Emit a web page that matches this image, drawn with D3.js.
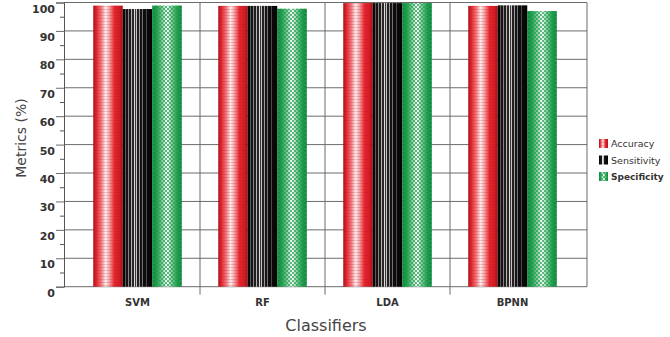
<!DOCTYPE html>
<html>
<head>
<meta charset="utf-8">
<script src="https://cdn.jsdelivr.net/npm/d3@7/dist/d3.min.js"></script>
<style>
  body { margin: 0; background: #fff; }
  text { font-family: "DejaVu Sans", Verdana, sans-serif; }
</style>
</head>
<body>
<div id="chart"></div>
<script>
// data
const classifiers = ['SVM', 'RF', 'LDA', 'BPNN'];
const metrics = ['Accuracy', 'Sensitivity', 'Specificity'];
const accuracy = [98.9, 98.8, 99.8, 98.8];
const sensitivity = [97.7, 98.8, 99.8, 99.0];
const specificity = [98.9, 97.8, 99.8, 97.0];
const yTicks = [0, 10, 20, 30, 40, 50, 60, 70, 80, 90, 100];
const yMinorTicks = [5, 15, 25, 35, 45, 55, 65, 75, 85, 95];

const width = 670;
const height = 337;
const plot = { left: 64, right: 587, top: 2.5, bottom: 286.7 };

const svg = d3.select('#chart')
  .append('svg')
  .attr('width', width)
  .attr('height', height);

const defs = svg.append('defs');

/* fills: red gradient, black stripes, green checkers */
const redGrad = defs.append('linearGradient').attr('id', 'redGrad');
[[0, '#a8131a'], [0.1, '#e0232b'], [0.28, '#f27d82'], [0.42, '#fdf0f0'], [0.55, '#f4a0a3'], [0.72, '#e5262e'], [0.9, '#d01b23'], [1, '#9a1117']]
  .forEach(([o, c]) => redGrad.append('stop').attr('offset', o).attr('stop-color', c));

const redLines = defs.append('pattern').attr('id', 'redLines')
  .attr('patternUnits', 'userSpaceOnUse').attr('width', 4).attr('height', 3);
redLines.append('rect').attr('width', 4).attr('height', 1).attr('fill', '#c0141c').attr('opacity', 0.2);

const blackGrad = defs.append('linearGradient').attr('id', 'blackGrad');
const stripes = [
  [0.08, '#080808'], [0.11, '#5e5a5c'], [0.19, '#151314'], [0.22, '#8a8587'], [0.28, '#1e1c1d'],
  [0.32, '#b8b4b6'], [0.37, '#2a2728'], [0.41, '#dedadb'], [0.46, '#3a3738'], [0.5, '#c7c3c5'],
  [0.56, '#222021'], [0.6, '#9f9b9d'], [0.66, '#161415'], [0.7, '#76727a'], [0.79, '#0e0c0d'],
  [0.83, '#4d494b'], [0.93, '#0a0909'], [1, '#040404']
];
let prev = 0;
stripes.forEach(([o, c]) => {
  blackGrad.append('stop').attr('offset', prev).attr('stop-color', c);
  blackGrad.append('stop').attr('offset', o).attr('stop-color', c);
  prev = o;
});

const greenGrad = defs.append('linearGradient').attr('id', 'greenGrad');
[[0, '#11803a'], [0.15, '#1e9c4c'], [0.35, '#8fd0a5'], [0.5, '#ffffff'], [0.65, '#8fd0a5'], [0.85, '#1e9c4c'], [1, '#11803a']]
  .forEach(([o, c]) => greenGrad.append('stop').attr('offset', o).attr('stop-color', c));

const checks = defs.append('pattern').attr('id', 'checks')
  .attr('patternUnits', 'userSpaceOnUse').attr('width', 4).attr('height', 4);
checks.append('rect').attr('width', 2).attr('height', 2).attr('fill', '#1f9e4e').attr('opacity', 0.7);
checks.append('rect').attr('x', 2).attr('y', 2).attr('width', 2).attr('height', 2).attr('fill', '#1f9e4e').attr('opacity', 0.7);

const fills = {
  Accuracy: ['url(#redGrad)', 'url(#redLines)'],
  Sensitivity: ['url(#blackGrad)', 'none'],
  Specificity: ['url(#greenGrad)', 'url(#checks)']
};

/* scales */
const y = d3.scaleLinear().domain([0, 100]).range([plot.bottom, plot.top]);
const x = d3.scaleBand().domain(classifiers).range([75, 575]);
const xSub = d3.scaleBand().domain(metrics).range([18.25, 106.75]);

const rows = classifiers.map((c, i) => ({
  name: c,
  values: [
    { key: 'Accuracy', value: accuracy[i] },
    { key: 'Sensitivity', value: sensitivity[i] },
    { key: 'Specificity', value: specificity[i] }
  ]
}));

/* gridlines */
svg.append('g')
  .selectAll('line')
  .data(yTicks)
  .enter()
  .append('line')
  .attr('x1', plot.left)
  .attr('x2', plot.right)
  .attr('y1', (d) => y(d))
  .attr('y2', (d) => y(d))
  .attr('stroke', '#6b6b6b')
  .attr('stroke-width', 1);

// category dividers
svg.append('g')
  .selectAll('line')
  .data(classifiers.slice(1))
  .enter()
  .append('line')
  .attr('x1', (d) => x(d))
  .attr('x2', (d) => x(d))
  .attr('y1', plot.top)
  .attr('y2', plot.bottom + 8)
  .attr('stroke', '#6b6b6b')
  .attr('stroke-width', 1);

svg.append('line')
  .attr('x1', plot.right).attr('x2', plot.right)
  .attr('y1', plot.top).attr('y2', plot.bottom)
  .attr('stroke', '#6b6b6b');

/* bars */
const groups = svg.append('g')
  .selectAll('g')
  .data(rows)
  .enter()
  .append('g')
  .attr('transform', (d) => `translate(${x(d.name)},0)`);

groups.selectAll('rect.base')
  .data((d) => d.values)
  .enter()
  .append('rect')
  .attr('class', 'base')
  .attr('x', (d) => xSub(d.key))
  .attr('width', xSub.bandwidth())
  .attr('y', (d) => y(d.value))
  .attr('height', (d) => y(0) - y(d.value))
  .attr('fill', (d) => fills[d.key][0]);

groups.selectAll('rect.over')
  .data((d) => d.values.filter((v) => fills[v.key][1] !== 'none'))
  .enter()
  .append('rect')
  .attr('class', 'over')
  .attr('x', (d) => xSub(d.key))
  .attr('width', xSub.bandwidth())
  .attr('y', (d) => y(d.value))
  .attr('height', (d) => y(0) - y(d.value))
  .attr('fill', (d) => fills[d.key][1]);

/* y axis */
const yAxis = d3.axisLeft(y).tickValues(yTicks).tickSize(8).tickPadding(1);
const yg = svg.append('g')
  .attr('transform', `translate(${plot.left},0)`)
  .call(yAxis);
yg.select('.domain').attr('stroke', '#555');
yg.selectAll('.tick line').attr('stroke', '#6b6b6b');
yg.selectAll('.tick text')
  .attr('transform', 'translate(0,6)')
  .attr('font-size', 11)
  .attr('font-weight', 'bold')
  .attr('fill', '#333');

const yMinor = d3.axisLeft(y).tickValues(yMinorTicks).tickSize(4).tickFormat('');
const ym = svg.append('g')
  .attr('transform', `translate(${plot.left},0)`)
  .call(yMinor);
ym.select('.domain').remove();
ym.selectAll('.tick line').attr('stroke', '#555');

/* x axis */
const xAxis = d3.axisBottom(x).tickSize(0).tickPadding(12);
const xg = svg.append('g')
  .attr('transform', `translate(0,${plot.bottom})`)
  .call(xAxis);
xg.select('.domain').remove();
xg.selectAll('.tick text')
  .attr('font-size', 10)
  .attr('font-weight', 'bold')
  .attr('fill', '#333');

/* titles */
svg.append('text')
  .attr('transform', 'translate(26,138) rotate(-90)')
  .attr('text-anchor', 'middle')
  .attr('font-size', 14)
  .attr('fill', '#444')
  .text('Metrics (%)');

svg.append('text')
  .attr('x', 326)
  .attr('y', 331)
  .attr('text-anchor', 'middle')
  .attr('font-size', 16)
  .attr('fill', '#444')
  .text('Classifiers');

/* legend */
const legend = svg.append('g')
  .selectAll('g')
  .data(metrics)
  .enter()
  .append('g')
  .attr('transform', (d, i) => `translate(599,${139 + i * 16.5})`);

legend.append('rect')
  .attr('width', 9)
  .attr('height', 9)
  .attr('fill', (d) => fills[d][0]);
legend.filter((d) => fills[d][1] !== 'none')
  .append('rect')
  .attr('width', 9)
  .attr('height', 9)
  .attr('fill', (d) => fills[d][1]);

legend.append('text')
  .attr('x', 12)
  .attr('y', 8)
  .attr('font-size', (d) => (d === 'Specificity' ? 9 : 9.5))
  .attr('font-weight', (d) => (d === 'Specificity' ? 'bold' : 'normal'))
  .attr('fill', '#333')
  .text((d) => d);
</script>
</body>
</html>
